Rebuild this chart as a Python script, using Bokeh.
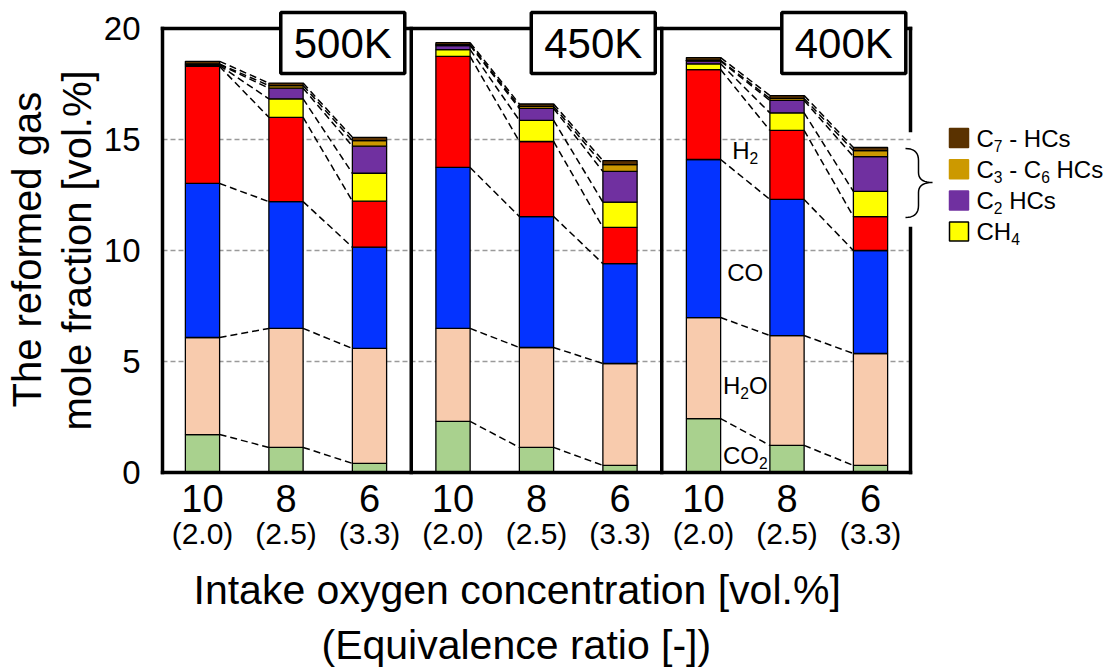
import numpy as np
from bokeh.plotting import figure
from bokeh.models import (ColumnDataSource, Range1d, FixedTicker, LinearAxis, Label,
                          BoxAnnotation, PolyAnnotation, Arrow, Title)
from bokeh.embed import file_html
from bokeh.resources import INLINE

# ---------------------------------------------------------------- data ----
temperatures = ["500K", "450K", "400K"]
o2_ticks = ["10", "8", "6"]                 # intake oxygen concentration [vol.%]
phi_ticks = ["(2.0)", "(2.5)", "(3.3)"]     # equivalence ratio [-]
y_ticks = [0, 5, 10, 15, 20]
grid_levels = [5, 10, 15]

# reformed gas composition [vol.%]; bars: 500K(10,8,6), 450K(10,8,6), 400K(10,8,6)
co2 = [1.71, 1.13, 0.41, 2.30, 1.13, 0.32, 2.43, 1.22, 0.32]
h2o = [4.37, 5.36, 5.18, 4.19, 4.50, 4.59, 4.55, 4.95, 5.04]
co = [6.94, 5.71, 4.56, 7.25, 5.90, 4.50, 7.12, 6.13, 4.64]
h2 = [5.27, 3.80, 2.07, 5.00, 3.38, 1.63, 4.05, 3.11, 1.53]
ch4 = [0.04, 0.83, 1.26, 0.31, 0.95, 1.14, 0.26, 0.79, 1.13]
c2 = [0.04, 0.48, 1.22, 0.18, 0.54, 1.38, 0.12, 0.56, 1.57]
c3c6 = [0.03, 0.12, 0.25, 0.04, 0.09, 0.31, 0.04, 0.09, 0.27]
c7 = [0.12, 0.11, 0.15, 0.09, 0.11, 0.18, 0.12, 0.13, 0.14]

species_keys = ["co2", "h2o", "co", "h2", "ch4", "c2", "c3c6", "c7"]
species_colors = ["#A9D18E", "#F8CBAD", "#0433FF", "#FF0000",
                  "#FFFF00", "#7030A0", "#CC9900", "#5A3200"]

# species names written inside the last panel: (text, is_subscript) runs
inline_names = [[("H", 0), ("2", 1)],
                [("CO", 0)],
                [("H", 0), ("2", 1), ("O", 0)],
                [("CO", 0), ("2", 1)]]
inline_name_x = 6.5
inline_name_base = [14.14, 8.65, 3.56, 0.41]     # text baselines [vol.%]

# legend for the minor hydrocarbon species (top to bottom)
legend_names = [[("C", 0), ("7", 1), (" - HCs", 0)],
                [("C", 0), ("3", 1), (" - C", 0), ("6", 1), (" HCs", 0)],
                [("C", 0), ("2", 1), (" HCs", 0)],
                [("CH", 0), ("4", 1)]]
legend_colors = ["#5A3200", "#CC9900", "#7030A0", "#FFFF00"]

# -------------------------------------------------------------- layout ----
FONT = "Liberation Sans"
W, H = 1114, 667
FL, FR, FT, FB = 162, 910, 28, 472   # edges of the bar area (canvas px)
CL, CB = 159, 475                    # drawing frame left / bottom (canvas px)
N = len(co2)
BAR_W = 0.41
XMIN, XMAX = -0.479, N - 1 + 0.479
YMIN, YMAX = 0.0, 20.0
SX = (FR - FL) / (XMAX - XMIN)
SY = (FB - FT) / (YMAX - YMIN)


def px_x(px):
    return XMIN + (px - FL) / SX


def px_y(py):
    return YMIN + (FB - py) / SY


def x_px(v):
    return FL + (v - XMIN) * SX


def y_px(v):
    return FB - (v - YMIN) * SY


x = list(range(N))
source = ColumnDataSource(dict(x=x, co2=co2, h2o=h2o, co=co, h2=h2, ch4=ch4,
                               c2=c2, c3c6=c3c6, c7=c7))

p = figure(width=W, height=H, title=None,
           x_range=Range1d(px_x(CL), px_x(W)), y_range=Range1d(px_y(CB), px_y(0)),
           output_backend="svg", toolbar_location=None,
           min_border_left=CL, min_border_right=0,
           min_border_top=0, min_border_bottom=H - CB)
p.outline_line_color = None
p.background_fill_color = "white"
p.border_fill_color = "white"
p.xgrid.visible = False
p.ygrid.visible = False

# y axis
yax = p.yaxis[0]
yax.ticker = FixedTicker(ticks=y_ticks)
yax.axis_line_color = None
yax.major_tick_line_color = None
yax.minor_tick_line_color = None
yax.major_label_standoff = 13
yax.major_label_text_font = FONT
yax.major_label_text_font_size = "33px"
yax.major_label_text_color = "black"

# x axis: oxygen concentration, then equivalence ratio underneath
xax = p.xaxis[0]
xax.ticker = FixedTicker(ticks=x)
xax.major_label_overrides = {i: o2_ticks[i % 3] for i in x}
xax.axis_line_color = None
xax.major_tick_line_color = None
xax.minor_tick_line_color = None
xax.major_label_standoff = 3
xax.major_label_text_font = FONT
xax.major_label_text_font_size = "38px"
xax.major_label_text_color = "black"

xax2 = LinearAxis(ticker=FixedTicker(ticks=x),
                  major_label_overrides={i: phi_ticks[i % 3] for i in x},
                  axis_line_color=None, major_tick_line_color=None,
                  minor_tick_line_color=None, major_label_standoff=-4,
                  major_label_text_font=FONT, major_label_text_font_size="30px",
                  major_label_text_color="black")
p.add_layout(xax2, "below")

# axis titles (offsets measured from the left / bottom of the plotting area)
for text, off, stand in (("Intake oxygen concentration [vol.%]", 34, 24),
                         ("(Equivalence ratio [-])", 162, -10)):
    p.add_layout(Title(text=text, align="left", offset=off, standoff=stand,
                       text_font=FONT, text_font_size="41px",
                       text_font_style="normal", text_color="black"), "below")
for text, off in (("mole fraction [vol.%]", 45), ("The reformed gas", 68)):
    p.add_layout(Title(text=text, align="left", offset=off, standoff=4,
                       text_font=FONT, text_font_size="40px",
                       text_font_style="normal", text_color="black"), "left")

# dashed horizontal guides
p.segment(x0=[XMIN] * len(grid_levels), y0=grid_levels,
          x1=[XMAX] * len(grid_levels), y1=grid_levels,
          line_color="#9a9a9a", line_width=1.5, line_dash="5 3")

# dashed connectors between the tops of matching layers of neighbouring bars
stack = np.array([source.data[k] for k in species_keys])
cum = np.cumsum(stack, axis=0)
sx0, sy0, sx1, sy1 = [], [], [], []
for j in range(N - 1):
    if j % 3 == 2:
        continue
    for layer in range(len(species_keys)):
        sx0.append(j + BAR_W / 2)
        sy0.append(cum[layer, j])
        sx1.append(j + 1 - BAR_W / 2)
        sy1.append(cum[layer, j + 1])
p.segment(x0=sx0, y0=sy0, x1=sx1, y1=sy1, line_color="black",
          line_width=1.5, line_dash="7 4")

# stacked bars
p.vbar_stack(stackers=species_keys, x="x", width=BAR_W, source=source,
             fill_color=species_colors, line_color="black", line_width=1.3)


# frame and panel dividers
def frame_line(x0, y0, x1, y1, width=3.5):
    p.add_layout(Arrow(end=None, x_start=x0, y_start=y0, x_end=x1, y_end=y1,
                       line_color="black", line_width=width, line_cap="square"))


frame_line(XMIN, YMIN, XMAX, YMIN)
frame_line(XMIN, YMIN, XMIN, YMAX)
frame_line(XMIN, YMAX, XMAX, YMAX)
frame_line(XMAX, YMAX, XMAX, px_y(130))
frame_line(XMAX, px_y(228), XMAX, YMIN)
for d in (2.5, 5.5):
    frame_line(d, YMIN, d, YMAX)

# temperature boxes on the top edge of each panel
box_half_w = 62 / SX
for k, t in enumerate(temperatures):
    cx = 3 * k + 1.68
    p.add_layout(BoxAnnotation(left=cx - box_half_w, right=cx + box_half_w,
                               top=px_y(12), bottom=px_y(73),
                               fill_color="white", fill_alpha=1.0,
                               line_color="black", line_alpha=1.0, line_width=3.5))
    p.add_layout(Label(x=cx, y=px_y(43), text=t, text_align="center",
                       text_baseline="middle", text_font=FONT,
                       text_font_size="42px", text_color="black"))

# Arial-compatible advance widths (1/1000 em) for the characters used below
ADV = {" ": 278, "-": 333, "C": 722, "H": 722, "O": 778, "s": 500}
MID = 0.3465   # em-box middle above the baseline


def run_width(s, size):
    return sum(ADV.get(ch, 556) for ch in s) * size / 1000.0


def rich_text(runs, left_px, base_px, size, align="left"):
    """Write text made of normal and subscript runs on a common baseline."""
    sub = 0.65 * size
    total = sum(run_width(t, sub if s else size) for t, s in runs)
    cur = left_px - (total / 2 if align == "center" else 0)
    for t, s in runs:
        fs = sub if s else size
        lead = len(t) - len(t.lstrip(" "))
        draw_x = cur + run_width(" " * lead, fs)
        mid = base_px + (0.2 * size if s else 0) - MID * fs
        p.add_layout(Label(x=px_x(draw_x), y=px_y(mid), text=t.strip(),
                           text_align="left", text_baseline="middle",
                           text_font=FONT, text_font_size=f"{fs:.1f}px",
                           text_color="black"))
        cur += run_width(t, fs)


# species names inside the last panel
for runs, base in zip(inline_names, inline_name_base):
    rich_text(runs, x_px(inline_name_x), y_px(base), 24, align="center")

# legend squares and names
sq = 19
for i, (runs, col) in enumerate(zip(legend_names, legend_colors)):
    cy = 137.5 + i * 31.2
    p.add_layout(BoxAnnotation(left=px_x(949), right=px_x(949 + sq),
                               top=px_y(cy - sq / 2), bottom=px_y(cy + sq / 2),
                               fill_color=col, fill_alpha=1.0,
                               line_color="black" if i == 3 else col,
                               line_alpha=1.0, line_width=1.5))
    rich_text(runs, 976, cy + 8.5, 24)


# curly brace grouping the hydrocarbon species
def quad(p0, c, p1, n=10):
    t = np.linspace(0, 1, n)[:, None]
    return (1 - t) ** 2 * np.array(p0) + 2 * (1 - t) * t * np.array(c) + t ** 2 * np.array(p1)


path = np.vstack([
    quad((905, 148), (918, 148), (918, 160)),
    quad((918, 172), (918, 182), (932, 182)),
    quad((932, 182), (918, 182), (918, 192)),
    quad((918, 205), (918, 217), (905, 217)),
])
full = np.vstack([path, path[::-1]])
p.add_layout(PolyAnnotation(xs=[px_x(v) for v in full[:, 0]],
                            ys=[px_y(v) for v in full[:, 1]],
                            fill_alpha=0.0, line_color="black", line_alpha=1.0,
                            line_width=1.5))

open("out.html", "w").write(file_html(p, INLINE))
